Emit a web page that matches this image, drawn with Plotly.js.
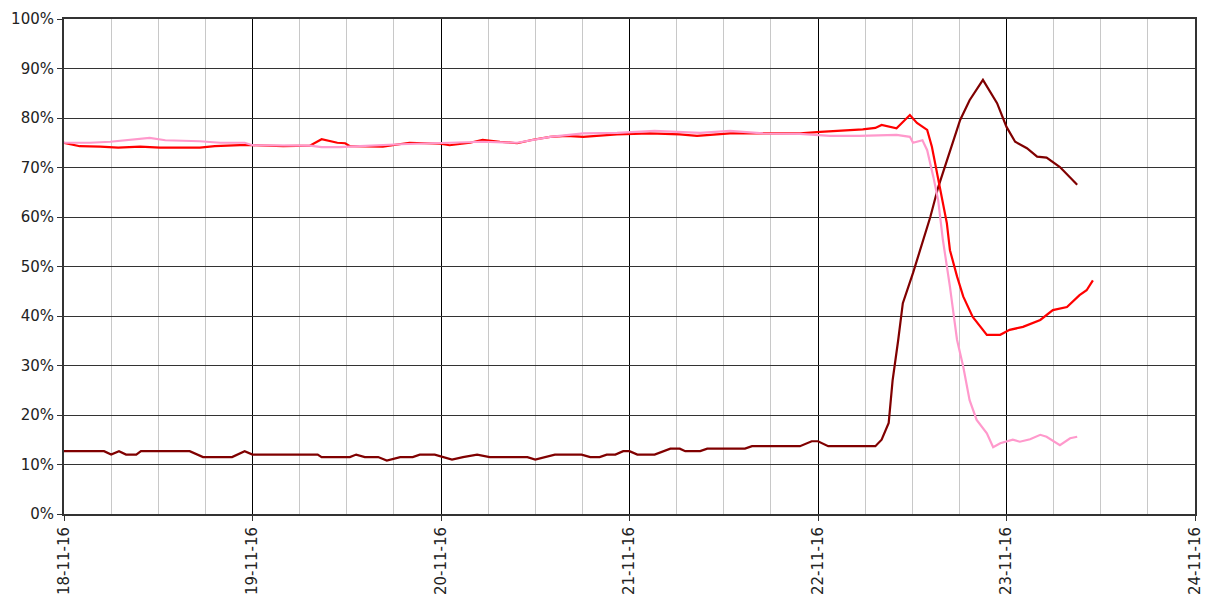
<!DOCTYPE html>
<html>
<head>
<meta charset="utf-8">
<script src="https://cdn.plot.ly/plotly-3.0.1.min.js"></script>
<style>html,body{margin:0;padding:0;background:#fff;}#chart{width:1211px;height:599px;}</style>
</head>
<body>
<div id="chart"></div>
<script>
// Hours since 18-11-2016 00:00, values in percent
const startDate = "2016-11-18T00:00:00";

const maroonHours = [0,5.1,6.0,7.0,7.9,9.2,9.8,16.0,17.7,21.4,23.0,24,32.3,32.8,36.4,37.2,38.3,40,41.1,42.8,44.4,45.3,47.2,48.3,49.4,50.8,52.6,54.2,59,60,61.2,62.5,65.9,67,68.2,69.1,70.2,71.2,72,73,75.2,76.5,77.2,78.4,79.1,81,81.9,86.7,87.6,93.7,95.2,96,97.3,103.3,104.1,105,105.5,106.2,106.8,108.1,109,110.3,111.3,112.8,114.1,115.3,117,118.8,120,121.1,122.6,123.9,125.1,126.8,129];
const maroonValues = [12.7,12.7,12.0,12.7,12.0,12.0,12.7,12.7,11.5,11.5,12.7,12.0,12.0,11.5,11.5,12.0,11.5,11.5,10.8,11.5,11.5,12.0,12.0,11.5,11.0,11.5,12.0,11.5,11.5,11.0,11.5,12.0,12.0,11.5,11.5,12.0,12.0,12.7,12.7,12.0,12.0,12.7,13.2,13.2,12.7,12.7,13.2,13.2,13.7,13.7,14.7,14.7,13.7,13.7,15,18.4,27,35,42.6,48.7,53.3,60,66,73.5,79.6,83.6,87.7,83,78.2,75.2,73.9,72.2,72,70.1,66.5];

const redHours = [0,1,2,4.6,6.9,9.7,12.2,17.3,19.2,22.4,24,27.9,31.3,32.8,34.8,35.8,36.4,40.6,44,47.9,49.1,51.7,53.3,55.5,57.7,59.7,61.9,64,66.1,70.4,74.6,78.4,80.6,84.8,93.7,96.3,101.7,103.3,104.1,106,107.7,108.6,109.9,110.5,111.1,111.8,112.4,112.8,113.7,114.5,115.7,117.5,119.2,120.4,122.1,124.3,125.9,127.7,129.3,130.2,131];
const redValues = [75.0,74.6,74.3,74.2,74.0,74.2,74.0,74.0,74.3,74.5,74.5,74.3,74.4,75.7,75.0,74.9,74.3,74.2,75.0,74.8,74.5,75.0,75.6,75.2,74.9,75.6,76.2,76.4,76.2,76.7,76.9,76.7,76.4,76.9,76.9,77.2,77.7,78.0,78.6,77.9,80.6,79.0,77.6,74.2,69.5,63.4,58.8,53.3,48,43.9,39.8,36.2,36.2,37.2,37.8,39.2,41.2,41.8,44.2,45.2,47.2];

const pinkHours = [0,3.3,5.9,8.4,10.9,12.9,17.3,19.9,23,24,31.3,32.8,35.1,37.7,42.8,49.1,53.3,57.7,61.9,66.1,70.4,75.2,81,84.8,89,93.7,97.5,101.3,106,107.7,108.1,109.3,109.9,110.7,111.3,111.9,112.8,113.7,114.5,115.3,116.2,117.5,118.3,119.2,120.8,121.7,123,124.3,125.1,126.8,128.1,129];
const pinkValues = [75.0,75.0,75.2,75.6,76.0,75.5,75.3,75.0,75.0,74.5,74.4,74.1,74.1,74.3,74.7,75.0,75.2,75.0,76.2,76.9,77.0,77.4,77.0,77.4,76.9,76.8,76.4,76.4,76.6,76.2,75,75.5,73.5,68,63.4,55.4,45.9,35.2,29.7,23,19,16.3,13.5,14.3,15,14.6,15.1,16,15.6,13.9,15.3,15.6];

const yTickVals = [0,10,20,30,40,50,60,70,80,90,100];
const yTickText = ["0%","10%","20%","30%","40%","50%","60%","70%","80%","90%","100%"];
const xRange = ["2016-11-18 00:00", "2016-11-24 00:00"];

function toDates(hours) {
  const t0 = new Date(startDate + "Z").getTime();
  return hours.map(h => {
    const d = new Date(t0 + h * 3600000);
    return d.toISOString().slice(0, 19).replace("T", " ");
  });
}

const traces = [
  {x: toDates(maroonHours), y: maroonValues, mode: "lines", line: {color: "#800000", width: 2.2}, hoverinfo: "skip"},
  {x: toDates(redHours), y: redValues, mode: "lines", line: {color: "#ff0000", width: 2.2}, hoverinfo: "skip"},
  {x: toDates(pinkHours), y: pinkValues, mode: "lines", line: {color: "#ff99cc", width: 2.2}, hoverinfo: "skip"}
];

const layout = {
  width: 1211, height: 599,
  margin: {l: 64, r: 16, t: 19, b: 85},
  paper_bgcolor: "#ffffff", plot_bgcolor: "#ffffff",
  showlegend: false,
  font: {family: "DejaVu Sans, Verdana, sans-serif", size: 15, color: "#222"},
  xaxis: {
    type: "date", range: xRange,
    dtick: 86400000, tick0: "2016-11-18",
    tickformat: "%d-%m-%y", tickangle: -90,
    showgrid: true, gridcolor: "#000000", gridwidth: 1,
    minor: {dtick: 21600000, tick0: "2016-11-18", showgrid: true, gridcolor: "#c8c8c8", gridwidth: 1},
    ticks: "outside", ticklen: 5, tickcolor: "#333",
    showline: true, linecolor: "#333", linewidth: 2, mirror: true,
    zeroline: false, fixedrange: true
  },
  yaxis: {
    range: [0, 100], tickmode: "array", tickvals: yTickVals, ticktext: yTickText,
    showgrid: true, gridcolor: "#333333", gridwidth: 1,
    ticks: "outside", ticklen: 5, tickcolor: "#333",
    showline: true, linecolor: "#333", linewidth: 2, mirror: true,
    zeroline: false, fixedrange: true
  }
};

Plotly.newPlot("chart", traces, layout, {displayModeBar: false, staticPlot: true});
</script>
</body>
</html>
